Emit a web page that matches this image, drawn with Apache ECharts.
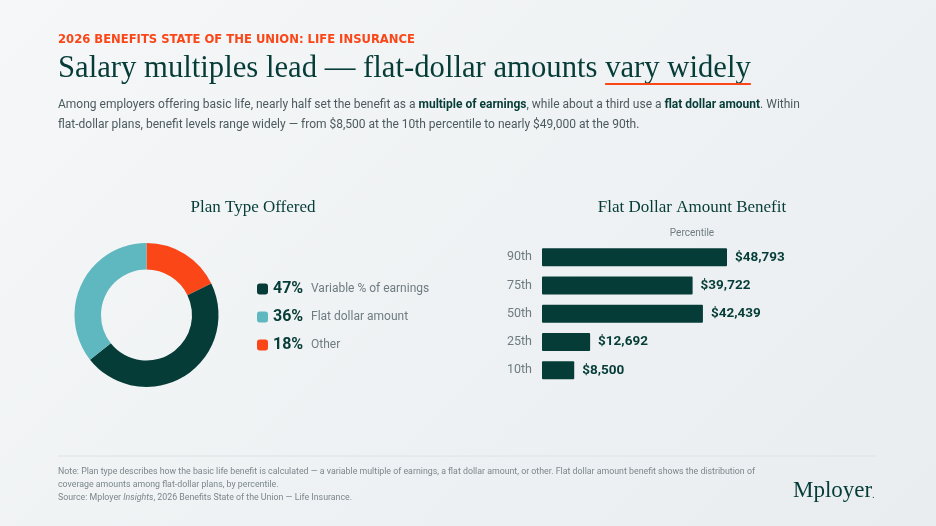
<!DOCTYPE html>
<html>
<head>
<meta charset="utf-8">
<script src="https://cdn.jsdelivr.net/npm/echarts@6/dist/echarts.min.js"></script>
<style>
html,body{margin:0;padding:0;}
#chart{width:936px;height:526px;background:linear-gradient(135deg,#f5f7f8 0%,#eef1f3 60%,#e9edef 100%);}
</style>
</head>
<body>
<div id="chart"></div>
<script>
// plan type shares (%), drawn clockwise from 12 o'clock
var planTypes=['Other','Variable % of earnings','Flat dollar amount'];
var planShares=[18,47,36];
var legendOrder=['Variable % of earnings','Flat dollar amount','Other'];

// flat dollar percentiles
var percentiles=['90th','75th','50th','25th','10th'];
var benefitValues=[48793,39722,42439,12692,8500];

var DARK='#053c37',TEAL='#5fb8bf',ORANGE='#fb4618',GREY='#6e7c81';
var SERIF='"Liberation Serif", serif',SANS='Roboto, "Noto Sans", sans-serif';

var shareOf={};
planTypes.forEach(function(n,i){shareOf[n]=planShares[i];});

// underline sits under the last two words of the headline
var HEAD_A='Salary multiples lead \u2014 flat-dollar amounts ',HEAD_B='vary widely',HEAD_SIZE=30.7;
var ctx=document.createElement('canvas').getContext('2d');
ctx.font=HEAD_SIZE+'px "Liberation Serif"';
var ulX=58+ctx.measureText(HEAD_A).width,ulW=ctx.measureText(HEAD_B).width;

var chart=echarts.init(document.getElementById('chart'));
var option={
	backgroundColor:'transparent',
	animation:false,
	title:[
		{text:'Plan Type Offered',left:248,top:194,textAlign:'center',
			textStyle:{fontFamily:SERIF,fontSize:17,fontWeight:'normal',color:DARK}},
		{text:'Flat Dollar Amount Benefit',left:687,top:194,textAlign:'center',
			textStyle:{fontFamily:SERIF,fontSize:17,fontWeight:'normal',color:DARK}},
		{text:'Percentile',left:687,top:223,textAlign:'center',
			textStyle:{fontFamily:SANS,fontSize:10,fontWeight:'normal',color:GREY}}
	],
	legend:{
		orient:'vertical',left:252,top:274,
		data:legendOrder,
		icon:'roundRect',itemWidth:11,itemHeight:11,itemGap:8,
		selectedMode:false,
		formatter:function(name){return '{p|'+shareOf[name]+'%}{l|'+name+'}';},
		textStyle:{
			rich:{
				p:{fontFamily:SANS,fontSize:16,fontWeight:'bold',color:DARK,width:38,height:20,lineHeight:20},
				l:{fontFamily:SANS,fontSize:12,color:GREY,height:20,lineHeight:20}
			}
		}
	},
	grid:{left:542,top:243,width:227.5,height:141.5},
	xAxis:{type:'value',min:0,max:60000,show:false},
	yAxis:{type:'category',data:percentiles,inverse:true,
		axisLine:{show:false},axisTick:{show:false},
		axisLabel:{margin:10,fontFamily:SANS,fontSize:12.5,color:GREY}},
	series:[
		{type:'pie',center:[146.5,315],radius:[45.5,72],startAngle:90,
			label:{show:false},labelLine:{show:false},silent:true,
			itemStyle:{borderWidth:0},
			data:planTypes.map(function(n,i){
				return {name:n,value:planShares[i],itemStyle:{color:[ORANGE,DARK,TEAL][i]}};
			})
		},
		{type:'bar',data:benefitValues,barWidth:18,
			itemStyle:{color:DARK,borderRadius:1},
			label:{show:true,position:'right',distance:8,fontFamily:SANS,fontSize:13.5,fontWeight:'bold',color:DARK,
				formatter:function(p){return '$'+p.value.toLocaleString('en-US');}}
		}
	],
	graphic:[
		{type:'text',left:58,top:34,style:{text:'2026 BENEFITS STATE OF THE UNION: LIFE INSURANCE',
			fontFamily:'"DejaVu Sans", sans-serif',fontSize:11.6,fontWeight:'bold',fill:ORANGE}},
		{type:'text',left:58,top:53,style:{text:HEAD_A+HEAD_B,
			fontFamily:SERIF,fontSize:HEAD_SIZE,fill:DARK}},
		{type:'rect',shape:{x:ulX,y:83,width:ulW,height:2},style:{fill:ORANGE}},
		{type:'text',left:58,top:95,style:{
			text:'Among employers offering basic life, nearly half set the benefit as a {b|multiple of earnings}, while about a third use a {b|flat dollar amount}. Within\nflat-dollar plans, benefit levels range widely \u2014 from $8,500 at the 10th percentile to nearly $49,000 at the 90th.',
			fontFamily:SANS,fontSize:12,fill:'#4c5a5e',lineHeight:20,
			rich:{b:{fontFamily:SANS,fontSize:12,fontWeight:'bold',fill:DARK,lineHeight:20}}}},
		{type:'line',shape:{x1:58,y1:456,x2:876,y2:456},style:{stroke:'#dde2e4',lineWidth:1}},
		{type:'text',left:58,top:465,style:{
			text:'Note: Plan type describes how the basic life benefit is calculated \u2014 a variable multiple of earnings, a flat dollar amount, or other. Flat dollar amount benefit shows the distribution of\ncoverage amounts among flat-dollar plans, by percentile.\nSource: Mployer {i|Insights}, 2026 Benefits State of the Union \u2014 Life Insurance.',
			fontFamily:SANS,fontSize:8.8,fill:'#7b878b',lineHeight:13,
			rich:{i:{fontFamily:SANS,fontSize:8.8,fontStyle:'italic',fill:'#7b878b',lineHeight:13}}}},
		{type:'text',left:793,top:479,style:{text:'Mployer',fontFamily:SERIF,fontSize:23,fill:DARK}},
		{type:'text',left:872,top:490,style:{text:'.',fontFamily:SANS,fontSize:10,fill:DARK}}
	]
};
chart.setOption(option);
</script>
</body>
</html>
